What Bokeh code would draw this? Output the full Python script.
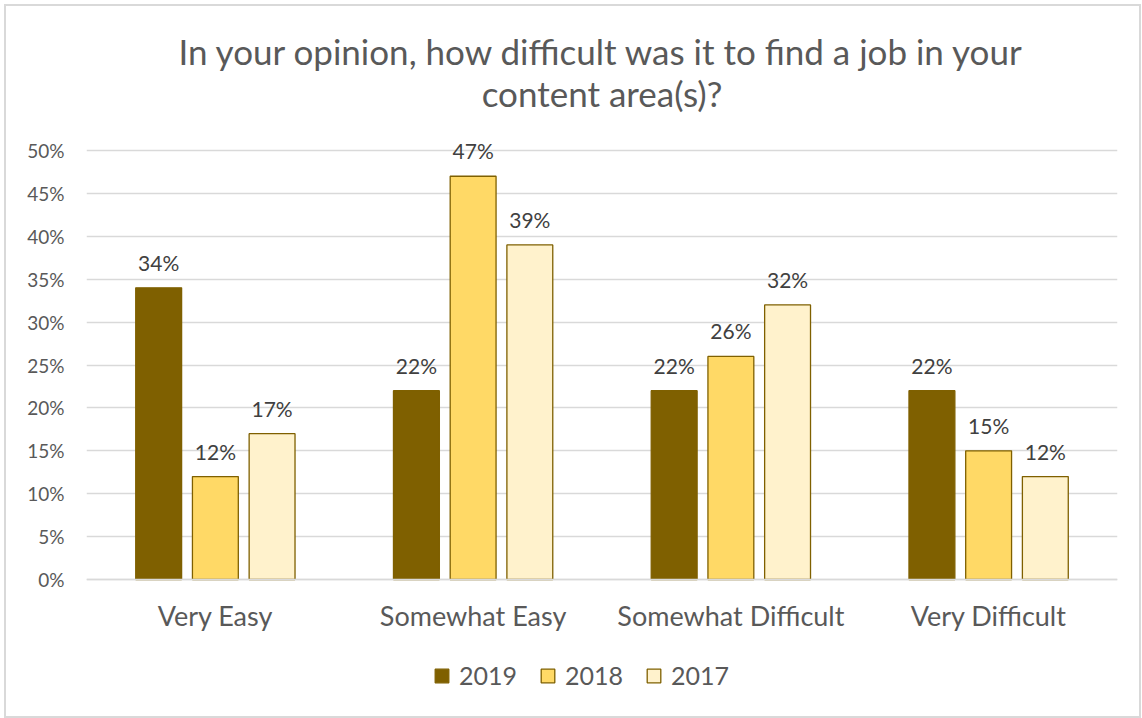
from bokeh.plotting import figure
from bokeh.models import (ColumnDataSource, FactorRange, Range1d, LabelSet, Legend, LegendItem,
                          Title, FixedTicker, NumeralTickFormatter)
from bokeh.core.properties import value
from bokeh.transform import dodge
from bokeh.embed import file_html
from bokeh.resources import INLINE

categories = ["Very Easy", "Somewhat Easy", "Somewhat Difficult", "Very Difficult"]
years = ["2019", "2018", "2017"]
v2019 = [34, 22, 22, 22]
v2018 = [12, 47, 26, 15]
v2017 = [17, 39, 32, 12]
y_ticks = [0, 0.05, 0.10, 0.15, 0.20, 0.25, 0.30, 0.35, 0.40, 0.45, 0.50]

colors = ["#7F6000", "#FFD966", "#FFF2CC"]
outline = "#7F6000"
FONT = "Lato"
GRAY = "#595959"

# 429 px per 50 %; headroom above 50 % for labels, room below 0 for axis labels + legend
PX_PER_UNIT = 429 / 0.5
HEAD = 30
FOOT = 137
p = figure(x_range=FactorRange(factors=categories),
           y_range=Range1d(-FOOT / PX_PER_UNIT, 0.5 + HEAD / PX_PER_UNIT),
           frame_width=1031, frame_height=429 + HEAD + FOOT, output_backend="svg",
           toolbar_location=None,
           min_border_left=80, min_border_right=22, min_border_top=144 - HEAD, min_border_bottom=0)
p.styles = {"border": "2px solid #D9D9D9", "margin": "4px 0px 0px 4px"}
p.outline_line_color = None
p.background_fill_color = "white"
p.border_fill_color = "white"

# titles (later-added is closer to the plot)
p.title.text = "In your opinion, how difficult was it to find a job in your"
p.title.align = "center"
p.title.text_font = FONT
p.title.text_font_size = "35px"
p.title.text_font_style = "normal"
p.title.text_color = GRAY
p.title.standoff = -16
t2 = Title(text="content area(s)?", align="center", standoff=13,
           text_font=FONT, text_font_size="35px", text_font_style="normal", text_color=GRAY)
p.add_layout(t2, "above")

offsets = [-0.22, 0.0, 0.22]
series = [v2019, v2018, v2017]
items = []
for yr, vals, off, col in zip(years, series, offsets, colors):
    src = ColumnDataSource(dict(cat=categories, val=[v / 100 for v in vals],
                                lab=[f"{v}%" for v in vals]))
    r = p.vbar(x=dodge("cat", off, range=p.x_range), top="val", bottom=0, width=0.178,
               source=src, fill_color=col, line_color=outline, line_width=1.3)
    items.append(LegendItem(label=yr, renderers=[r]))
    lbl = LabelSet(x=dodge("cat", off, range=p.x_range), y="val", text="lab", source=src,
                   text_align="center", text_baseline="bottom", y_offset=13,
                   text_font=value(FONT), text_font_size="21px", text_color="#404040")
    p.add_layout(lbl)

p.yaxis.ticker = FixedTicker(ticks=y_ticks)
p.yaxis.formatter = NumeralTickFormatter(format="0%")
p.yaxis.axis_line_color = None
p.yaxis.major_tick_line_color = None
p.yaxis.minor_tick_line_color = None
p.yaxis.major_label_text_font = FONT
p.yaxis.major_label_text_font_size = "19px"
p.yaxis.major_label_text_color = GRAY
p.yaxis.major_label_standoff = 16

p.xaxis.fixed_location = 0
p.xaxis.axis_line_color = "#D9D9D9"
p.xaxis.axis_line_width = 1.3
p.xaxis.major_tick_line_color = None
p.xaxis.minor_tick_line_color = None
p.xaxis.major_label_text_font = FONT
p.xaxis.major_label_text_font_size = "27px"
p.xaxis.major_label_text_color = GRAY
p.xaxis.major_label_standoff = 13

p.xgrid.grid_line_color = None
p.ygrid.grid_line_color = "#D9D9D9"
p.ygrid.grid_line_width = 1.3

legend = Legend(items=items, orientation="horizontal", location=(347, 26),
                label_text_font=FONT, label_text_font_size="25px", label_text_color=GRAY,
                glyph_width=17, glyph_height=17, spacing=22, label_standoff=9,
                border_line_color=None, background_fill_alpha=0, margin=0, padding=4)
p.add_layout(legend, "center")

open("out.html", "w").write(file_html(p, INLINE))
